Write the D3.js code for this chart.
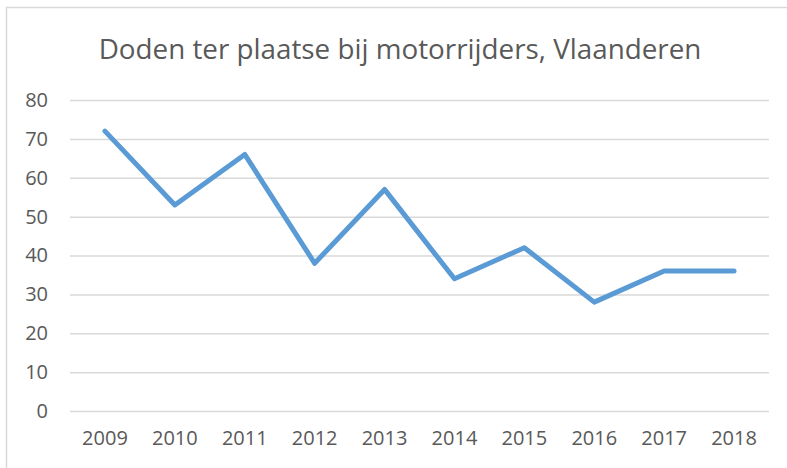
<!DOCTYPE html>
<html><head><meta charset="utf-8">
<script src="https://cdn.jsdelivr.net/npm/d3@7"></script>
<style>html,body{margin:0;padding:0;background:#fff;}</style>
</head><body>
<svg id="chart" width="787" height="468"></svg>
<script>
const years = ["2009","2010","2011","2012","2013","2014","2015","2016","2017","2018"];
const deaths = [72, 53, 66, 38, 57, 34, 42, 28, 36, 36];
const yTicks = [0, 10, 20, 30, 40, 50, 60, 70, 80];
const title = "Doden ter plaatse bij motorrijders, Vlaanderen";

(function () {
const svg = d3.select("#chart");
const font = "'Open Sans', 'Noto Sans', sans-serif";
svg.append("rect").attr("x", 6.5).attr("y", 7.5).attr("width", 790).attr("height", 470)
  .attr("fill", "#fff").attr("stroke", "#d9d9d9").attr("stroke-width", 1.5);

const pLeft = 70, pRight = 769, pTop = 100, pBottom = 411;
const x = d3.scaleBand().domain(years).range([pLeft, pRight]);
const y = d3.scaleLinear().domain([0, 80]).range([pBottom, pTop]);

svg.append("text").attr("x", 400).attr("y", 59).attr("text-anchor", "middle")
  .attr("font-family", font).attr("font-size", 27.8).attr("fill", "#595959").text(title);

const yAxis = svg.append("g").attr("transform", `translate(${pLeft},0)`)
  .call(d3.axisLeft(y).tickValues(yTicks).tickSize(-(pRight - pLeft)).tickPadding(22));
yAxis.select(".domain").remove();
yAxis.selectAll("line").attr("stroke", "#d9d9d9").attr("stroke-width", 1.5);
yAxis.selectAll("text").attr("font-family", font).attr("font-size", 20).attr("fill", "#595959");

const xAxis = svg.append("g").attr("transform", `translate(0,${pBottom})`)
  .call(d3.axisBottom(x).tickSize(0).tickPadding(20));
xAxis.select(".domain").remove();
xAxis.selectAll("text").attr("font-family", font).attr("font-size", 20).attr("fill", "#595959");

const line = d3.line().x((d, i) => x(years[i]) + x.bandwidth() / 2).y(d => y(d));
svg.append("path").datum(deaths).attr("d", line).attr("fill", "none")
  .attr("stroke", "#5b9bd5").attr("stroke-width", 5).attr("stroke-linecap", "round").attr("stroke-linejoin", "round");
})();
</script>
</body></html>
